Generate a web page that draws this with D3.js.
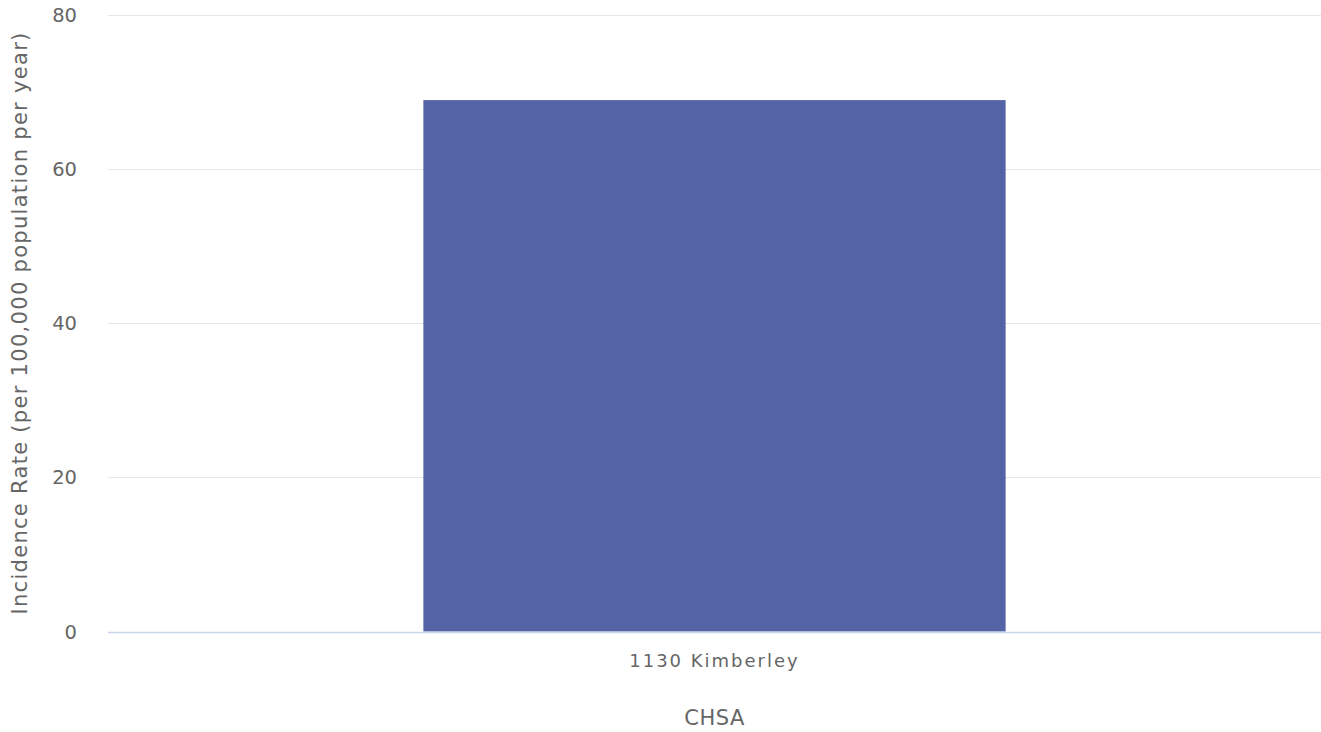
<!DOCTYPE html>
<html><head><meta charset="utf-8">
<script src="https://cdn.jsdelivr.net/npm/d3@7"></script>
<style>
html,body{margin:0;padding:0;background:#fff;}
svg{display:block;font-family:"DejaVu Sans",Verdana,sans-serif;}
</style></head>
<body><svg id="c" width="1321" height="732"></svg>
<script>
const categories = ["1130 Kimberley"];
const values = [68.9];
const yTicks = [0, 20, 40, 60, 80];
const xTitle = "CHSA";
const yTitle = "Incidence Rate (per 100,000 population per year)";

const W = 1321, H = 732;
const m = {left: 108, right: 0, top: 14.5, bottom: 100.5};
const svg = d3.select("#c");
const x = d3.scaleBand().domain(categories).range([m.left, W - m.right]).paddingInner(0).paddingOuter(0);
const y = d3.scaleLinear().domain([0, 80]).range([H - m.bottom, m.top]);

// grid
svg.append("g").selectAll("line").data(yTicks.filter(d => d !== 0)).join("line")
  .attr("x1", m.left).attr("x2", W - m.right)
  .attr("y1", d => Math.round(y(d)) + 0.5).attr("y2", d => Math.round(y(d)) + 0.5)
  .attr("stroke", "#e6e6e6").attr("stroke-width", 1);

// bars (Highcharts-like padding: group 0.2, point 0.1)
const bw = x.bandwidth();
const barW = bw * 0.6 * 0.8;
svg.append("g").selectAll("rect").data(categories).join("rect")
  .attr("x", (d) => x(d) + bw / 2 - barW / 2)
  .attr("width", barW)
  .attr("y", (d, i) => y(values[i]))
  .attr("height", (d, i) => y(0) - y(values[i]))
  .attr("fill", "#5363a5");

// x axis line
svg.append("line").attr("x1", m.left).attr("x2", W - m.right)
  .attr("y1", Math.round(y(0)) + 0.5).attr("y2", Math.round(y(0)) + 0.5)
  .attr("stroke", "#ccd6eb").attr("stroke-width", 1.5);

// y tick labels
svg.append("g").selectAll("text").data(yTicks).join("text")
  .attr("x", 77).attr("y", d => y(d) + 7)
  .attr("text-anchor", "end").attr("fill", "#666666")
  .style("font-size", "19.5px")
  .text(d => d);

// x tick labels
svg.append("g").selectAll("text").data(categories).join("text")
  .attr("x", d => x(d) + bw / 2).attr("y", 667)
  .attr("text-anchor", "middle").attr("fill", "#666666")
  .style("font-size", "18px").style("letter-spacing", "2px")
  .text(d => d);

// axis titles
svg.append("text").attr("x", x(categories[0]) + bw / 2).attr("y", 725)
  .attr("text-anchor", "middle").attr("fill", "#666666")
  .style("font-size", "21px").style("letter-spacing", "0.5px").text(xTitle);

svg.append("text").attr("transform", `translate(27,${(m.top + H - m.bottom) / 2}) rotate(-90)`)
  .attr("text-anchor", "middle").attr("fill", "#666666")
  .style("font-size", "21px").style("letter-spacing", "1.3px").text(yTitle);
</script></body></html>
